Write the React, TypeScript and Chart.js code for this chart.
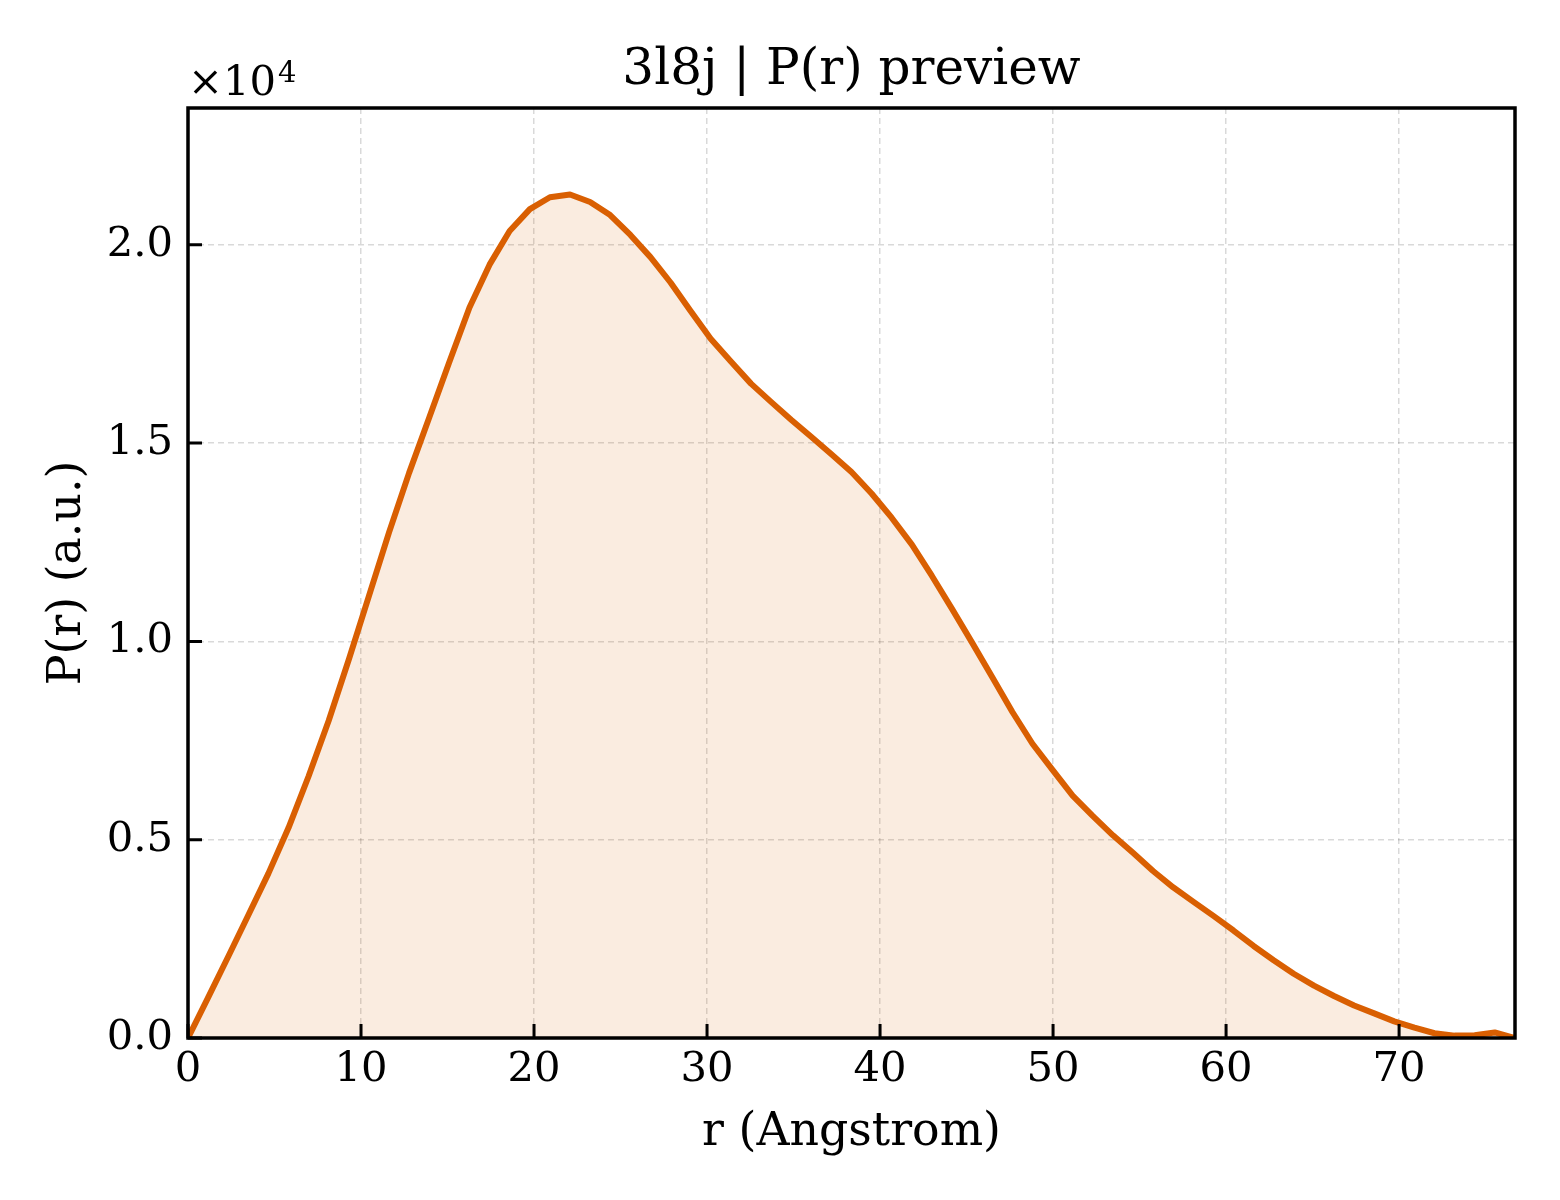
import React, { useEffect, useRef } from 'react';
import { Chart, registerables, Plugin } from 'chart.js';

Chart.register(...registerables);

const rValues = [
  0.0, 1.16, 2.32, 3.49, 4.65, 5.81, 6.97, 8.13, 9.3, 10.46,
  11.62, 12.78, 13.95, 15.11, 16.27, 17.43, 18.59, 19.76, 20.92, 22.08,
  23.24, 24.4, 25.57, 26.73, 27.89, 29.05, 30.21, 31.38, 32.54, 33.7,
  34.86, 36.02, 37.19, 38.35, 39.51, 40.67, 41.84, 43.0, 44.16, 45.32,
  46.48, 47.65, 48.81, 49.97, 51.13, 52.29, 53.46, 54.62, 55.78, 56.94,
  58.1, 59.27, 60.43, 61.59, 62.75, 63.91, 65.08, 66.24, 67.4, 68.56,
  69.72, 70.89, 72.05, 73.21, 74.37, 75.53, 76.7,
];

const prValues = [
  0, 1020, 2050, 3100, 4150, 5300, 6600, 8000, 9550, 11150,
  12750, 14250, 15650, 17050, 18420, 19500, 20350, 20900, 21200, 21270,
  21080, 20750, 20250, 19690, 19050, 18330, 17630, 17060, 16500, 16040,
  15590, 15160, 14720, 14270, 13730, 13120, 12440, 11650, 10820, 9970,
  9100, 8220, 7420, 6760, 6110, 5600, 5110, 4670, 4210, 3800,
  3440, 3080, 2710, 2320, 1960, 1620, 1320, 1060, 820, 620,
  420, 260, 120, 60, 70, 140, 0,
];

const xTicks = [0, 10, 20, 30, 40, 50, 60, 70];
const yTicks = [0, 5000, 10000, 15000, 20000];

const titleText = '3l8j | P(r) preview';
const xLabel = 'r (Angstrom)';
const yLabel = 'P(r) (a.u.)';

const SERIF = '"DejaVu Serif", serif';
const LINE_COLOR = '#d95f02';
const TICK_LEN = 14;

const whiteBg: Plugin = {
  id: 'whiteBg',
  beforeDraw(chart) {
    const { ctx, width, height } = chart;
    ctx.save();
    ctx.fillStyle = '#fff';
    ctx.fillRect(0, 0, width, height);
    ctx.restore();
  },
};

// matplotlib-like decorations: inward ticks, frame, title, labels, offset text
const decorations: Plugin = {
  id: 'decorations',
  afterDraw(chart) {
    const { ctx, chartArea } = chart;
    const { left, right, top, bottom } = chartArea;
    const cx = (left + right) / 2;
    const xs: any = chart.scales.x;
    const ys: any = chart.scales.y;
    ctx.save();

    ctx.strokeStyle = '#000';
    ctx.lineWidth = 3;
    ctx.beginPath();
    xTicks.forEach((v) => {
      const px = xs.getPixelForValue(v);
      ctx.moveTo(px, bottom);
      ctx.lineTo(px, bottom - TICK_LEN);
    });
    yTicks.forEach((v) => {
      const py = ys.getPixelForValue(v);
      ctx.moveTo(left, py);
      ctx.lineTo(left + TICK_LEN, py);
    });
    ctx.stroke();

    ctx.lineWidth = 3.5;
    ctx.strokeRect(left, top, right - left, bottom - top);

    ctx.fillStyle = '#000';
    ctx.textBaseline = 'alphabetic';

    ctx.font = `50px ${SERIF}`;
    ctx.textAlign = 'center';
    ctx.fillText(titleText, cx, 84);

    ctx.font = `45.8px ${SERIF}`;
    ctx.fillText(xLabel, cx, 1145);

    ctx.save();
    ctx.translate(80, (top + bottom) / 2);
    ctx.rotate(-Math.PI / 2);
    ctx.fillText(yLabel, 0, 0);
    ctx.restore();

    ctx.textAlign = 'left';
    ctx.font = `41.7px ${SERIF}`;
    const base = '\u00d710';
    ctx.fillText(base, left, 95);
    const w = ctx.measureText(base).width;
    ctx.font = `29px ${SERIF}`;
    ctx.fillText('4', left + w + 2, 82);

    ctx.restore();
  },
};

export default function App() {
  const canvasRef = useRef<HTMLCanvasElement | null>(null);

  useEffect(() => {
    document.body.style.margin = '0';
    if (!canvasRef.current) return;

    const points = rValues.map((r, i) => ({ x: r, y: prValues[i] }));

    const chart = new Chart(canvasRef.current, {
      type: 'line',
      data: {
        datasets: [
          {
            data: points,
            borderColor: LINE_COLOR,
            borderWidth: 6,
            backgroundColor: 'rgba(217, 95, 2, 0.12)',
            fill: 'origin',
            pointRadius: 0,
            tension: 0,
            borderJoinStyle: 'round',
          },
        ],
      },
      options: {
        responsive: false,
        animation: false,
        devicePixelRatio: 1,
        layout: { padding: { left: 0, top: 108, right: 45, bottom: 0 } },
        plugins: {
          legend: { display: false },
          tooltip: { enabled: false },
          title: { display: false },
        },
        scales: {
          x: {
            type: 'linear',
            min: 0,
            max: 76.7,
            afterFit: (scale: any) => {
              scale.height = 162;
            },
            afterBuildTicks: (scale: any) => {
              scale.ticks = xTicks.map((v) => ({ value: v }));
            },
            ticks: {
              includeBounds: false,
              padding: 11,
              color: '#000',
              maxRotation: 0,
              autoSkip: false,
              font: { family: SERIF, size: 41.7, lineHeight: 1 },
            },
            grid: { color: 'rgba(0,0,0,0.15)', lineWidth: 1.5, drawTicks: false },
            border: { display: false, dash: [6, 4] },
          },
          y: {
            type: 'linear',
            min: 0,
            max: 23450,
            afterFit: (scale: any) => {
              scale.width = 188;
            },
            afterBuildTicks: (scale: any) => {
              scale.ticks = yTicks.map((v) => ({ value: v }));
            },
            ticks: {
              includeBounds: false,
              padding: 15,
              color: '#000',
              autoSkip: false,
              font: { family: SERIF, size: 41.7, lineHeight: 1 },
              callback: (v: any) => (Number(v) / 1e4).toFixed(1),
            },
            grid: { color: 'rgba(0,0,0,0.15)', lineWidth: 1.5, drawTicks: false },
            border: { display: false, dash: [6, 4] },
          },
        },
      },
      plugins: [whiteBg, decorations],
    });

    return () => {
      chart.destroy();
    };
  }, []);

  return (
    <div style={{ width: 1560, height: 1200, background: 'white' }}>
      <canvas ref={canvasRef} width={1560} height={1200} style={{ width: 1560, height: 1200 }} />
    </div>
  );
}
